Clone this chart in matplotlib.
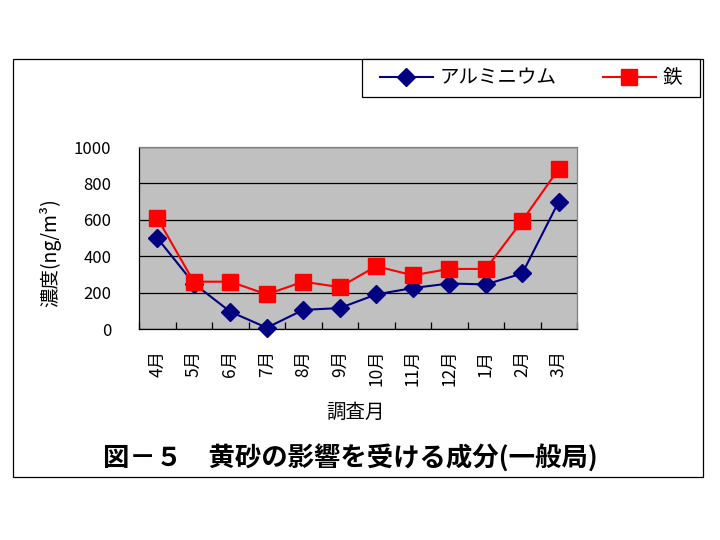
import numpy as np
import matplotlib.pyplot as plt
from matplotlib.patches import Rectangle

plt.rcParams['font.family'] = ['Noto Sans CJK JP', 'DejaVu Sans']

# =====================================================
# DATA
# =====================================================

months = ["4月", "5月", "6月", "7月", "8月", "9月",
          "10月", "11月", "12月", "1月", "2月", "3月"]

aluminium = [500, 250, 95, 7, 105, 115, 190, 225, 250, 245, 305, 700]
iron = [610, 260, 260, 190, 260, 230, 345, 295, 330, 330, 595, 880]

yticks = [0, 200, 400, 600, 800, 1000]

# =====================================================
# FIGURE
# =====================================================

W, H = 720, 540
fig = plt.figure(figsize=(7.2, 5.4), dpi=100)
fig.patch.set_facecolor("white")


def px_rect(x0, y0, x1, y1):
    """Figure-fraction rectangle from pixel corners (top-left origin)."""
    return (x0 / W, 1 - y1 / H, (x1 - x0) / W, (y1 - y0) / H)


# outer frame
fx, fy, fw, fh = px_rect(13, 59, 703, 477)
fig.add_artist(Rectangle((fx, fy), fw, fh, transform=fig.transFigure,
                         facecolor="none", edgecolor="black", linewidth=0.9))

# legend box
lx, ly, lw, lh = px_rect(362, 59, 700, 97)
fig.add_artist(Rectangle((lx, ly), lw, lh, transform=fig.transFigure,
                         facecolor="white", edgecolor="black", linewidth=0.9))

ax = fig.add_axes(px_rect(139, 147, 577, 329))
ax.set_facecolor("#C0C0C0")

x = np.arange(len(months))

ax.plot(x, aluminium, color="#000080", marker="D", markersize=9,
        linewidth=1.5, label="アルミニウム", clip_on=False, zorder=3)
ax.plot(x, iron, color="#FF0000", marker="s", markersize=11,
        linewidth=1.5, label="鉄", clip_on=False, zorder=4)

ax.set_xlim(-0.5, len(months) - 0.5)
ax.set_ylim(0, 1000)

ax.set_yticks(yticks)
ax.yaxis.grid(True, color="black", linewidth=0.9)
ax.set_axisbelow(True)
ax.tick_params(axis="y", length=0, pad=20, labelsize=12)

ax.set_xticks(x)
ax.set_xticklabels(months, rotation=90)
ax.set_xticks(np.arange(len(months) + 1) - 0.5, minor=True)
ax.tick_params(axis="x", which="major", length=0, pad=15, labelsize=12.5)
ax.tick_params(axis="x", which="minor", direction="in", length=5,
               width=0.9, color="black")

for side in ["top", "right"]:
    ax.spines[side].set_color("#808080")
    ax.spines[side].set_linewidth(0.9)
for side in ["left", "bottom"]:
    ax.spines[side].set_color("black")
    ax.spines[side].set_linewidth(0.9)

ax.set_ylabel("濃度(ng/m³)", fontsize=14)
ax.yaxis.set_label_coords(-0.178, 0.42)

ax.set_xlabel("調査月", fontsize=14)
ax.xaxis.set_label_coords(0.495, -0.40)

# legend
fig.legend(loc="center", bbox_to_anchor=(531 / W, 1 - 78 / H), ncol=2,
           frameon=False, fontsize=14, handlelength=2.7,
           handletextpad=0.35, columnspacing=2.4)

# title
fig.text(350 / W, 1 - 459 / H, "図－５　黄砂の影響を受ける成分(一般局)",
         ha="center", va="center", fontsize=19, fontweight="bold")

plt.savefig("out.png", dpi=100)
plt.close()
